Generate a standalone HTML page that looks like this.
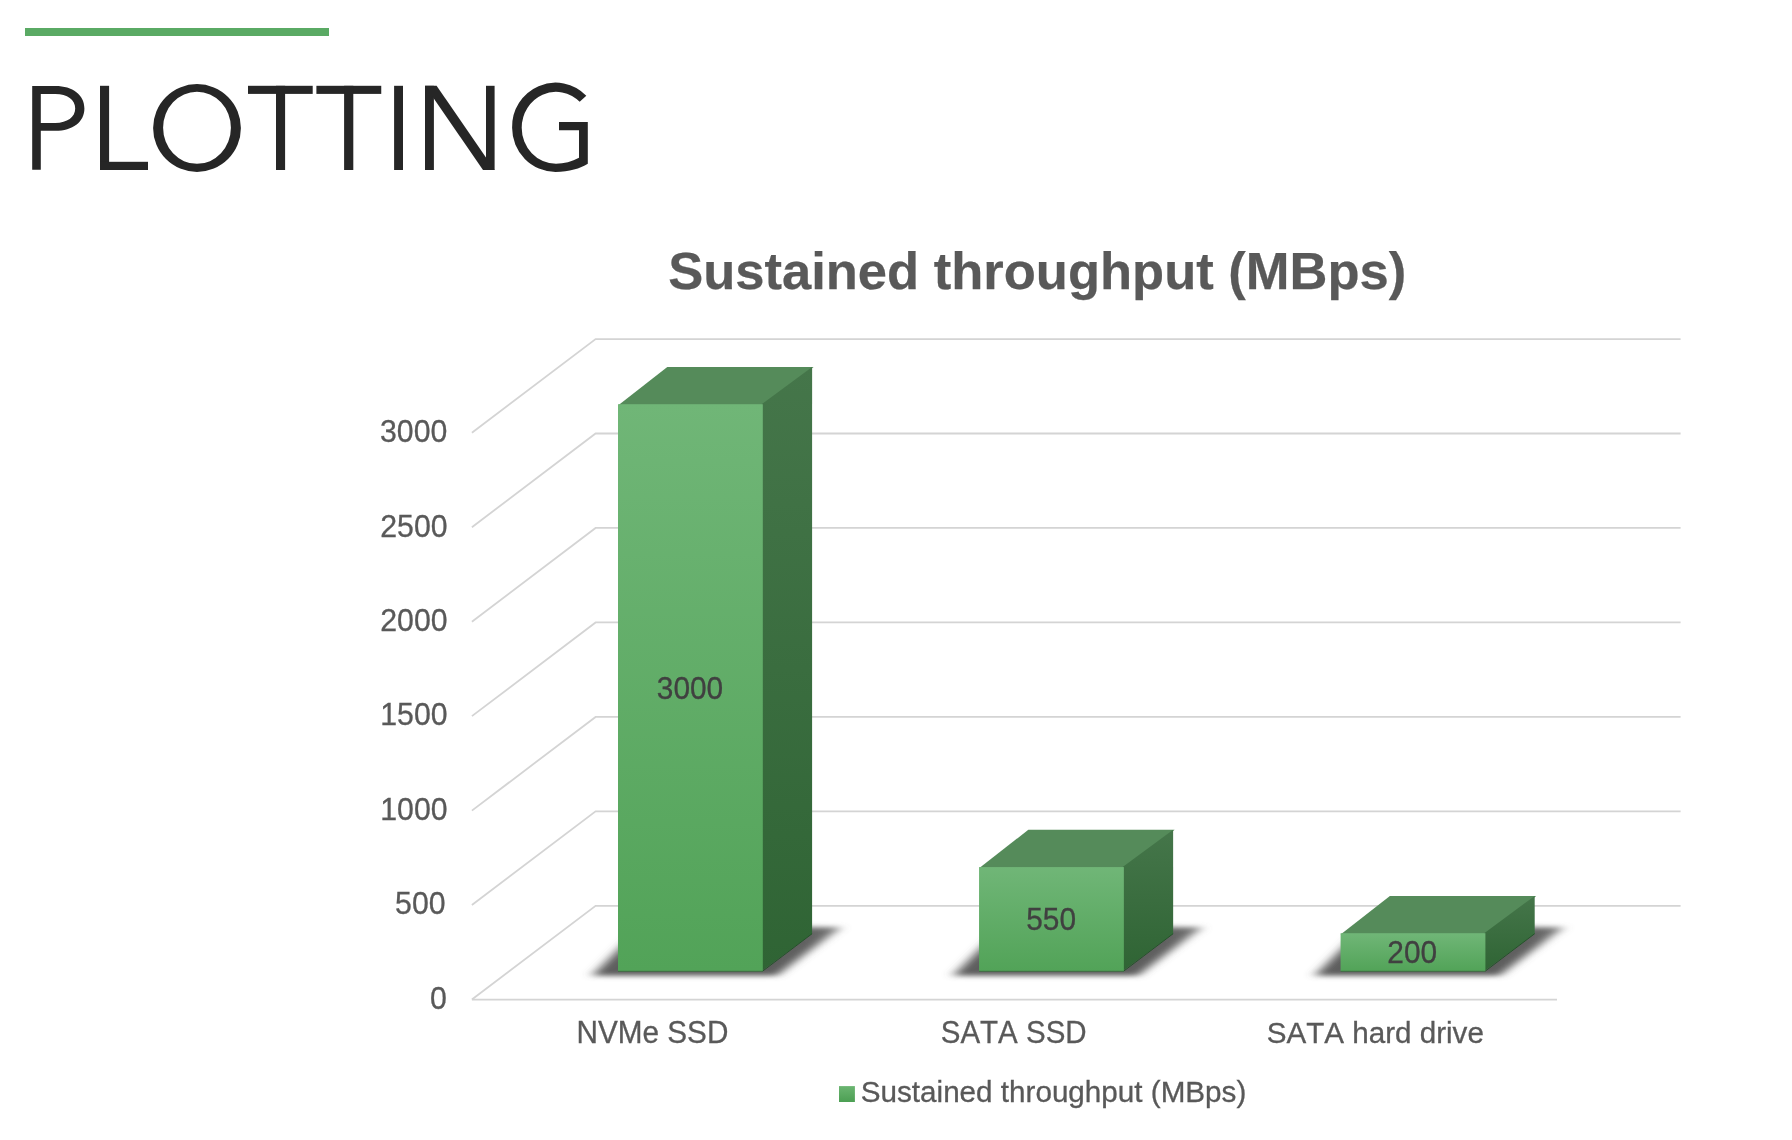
<!DOCTYPE html>
<html>
<head>
<meta charset="utf-8">
<style>
html,body{margin:0;padding:0;background:#fff;}
body{width:1792px;height:1140px;overflow:hidden;position:relative;}
svg{position:absolute;left:0;top:0;}
text{font-family:"Liberation Sans",sans-serif;font-kerning:none;font-feature-settings:"kern" 0;}
svg{will-change:transform;}
</style>
</head>
<body>
<svg width="1792" height="1140" viewBox="0 0 1792 1140">
<defs>
  <linearGradient id="gf" x1="0" y1="0" x2="0" y2="1">
    <stop offset="0" stop-color="#70b677"/>
    <stop offset="1" stop-color="#52a358"/>
  </linearGradient>
  <linearGradient id="gr" x1="0" y1="0" x2="0" y2="1">
    <stop offset="0" stop-color="#45764a"/>
    <stop offset="1" stop-color="#2f6434"/>
  </linearGradient>
  <linearGradient id="gl" x1="0" y1="0" x2="0" y2="1">
    <stop offset="0" stop-color="#6bb571"/>
    <stop offset="1" stop-color="#4c9f53"/>
  </linearGradient>
  <linearGradient id="gs" x1="0" y1="0" x2="1" y2="0">
    <stop offset="0" stop-color="#5d5d5d"/>
    <stop offset="0.75" stop-color="#5d5d5d"/>
    <stop offset="0.88" stop-color="#626262"/>
    <stop offset="1" stop-color="#7a7a7a"/>
  </linearGradient>
  <filter id="blur" x="-30%" y="-60%" width="160%" height="220%">
    <feGaussianBlur stdDeviation="6 2.4"/>
  </filter>
  <clipPath id="gclip"><rect x="500" y="70" width="88" height="110"/></clipPath>
</defs>
<rect width="1792" height="1140" fill="#fff"/>
<rect x="25" y="28" width="304" height="8" fill="#5aaa64"/>
<g fill="#262626" stroke="none">
  <path fill-rule="evenodd" d="M32.2,86.05 H55.4 C72.8,86.05 84.4,95 84.4,108.4 C84.4,121.8 72.8,130.7 55.4,130.7 H40.8 V169.8 H32.2 Z M40.8,94.07 H55.4 C67.3,94.07 75.2,99.9 75.2,108.5 C75.2,117.1 67.3,122.9 55.4,122.9 H40.8 Z"/>
  <rect x="100" y="85.8" width="9.1" height="84.2"/>
  <rect x="100" y="161.8" width="48" height="8.2"/>
  <path fill-rule="evenodd" d="M153.1 128 A43.9 43.9 0 1 0 240.9 128 A43.9 43.9 0 1 0 153.1 128 Z M163.1 127.8 A33.9 36.05 0 1 0 230.9 127.8 A33.9 36.05 0 1 0 163.1 127.8 Z"/>
  <rect x="248" y="85.8" width="64.7" height="8.1"/>
  <rect x="276" y="85.8" width="9.1" height="84.2"/>
  <rect x="316.4" y="85.8" width="64.85" height="8.1"/>
  <rect x="344.1" y="85.8" width="9.2" height="84.2"/>
  <rect x="394.1" y="85.8" width="8.9" height="84.2"/>
  <rect x="425" y="85.8" width="8.9" height="84.2"/>
  <rect x="486" y="85.8" width="8.6" height="84.2"/>
  <polygon points="425,85.8 436.6,85.8 494.6,170 483,170"/>
  <path d="M586.3,95.7 A43.4,44.15 0 0 0 512.1,127.75 A43.4,44.15 0 0 0 555.5,171.9 C569.5,171.9 580,168.5 587.8,163.8 V122 H559 V130.2 H579 V157.8 C572,161.6 564,163.8 556,163.8 A34.3,36.05 0 0 1 521.7,127.75 A34.3,36.05 0 0 1 579.7,101.8 Z"/>
</g>

<text transform="translate(668.19 289.00) scale(1 1.0000)" font-size="52.529" font-weight="bold" fill="#595959" stroke="#595959" stroke-width="0.25" >Sustained throughput (MBps)</text>
<g stroke="#d4d4d4" stroke-width="1.8" fill="none" stroke-linejoin="miter">
<polyline points="471.9,999.55 595.6,905.85 1680.6,905.85"/>
<polyline points="471.9,905.08 595.6,811.38 1680.6,811.38"/>
<polyline points="471.9,810.61 595.6,716.91 1680.6,716.91"/>
<polyline points="471.9,716.14 595.6,622.44 1680.6,622.44"/>
<polyline points="471.9,621.67 595.6,527.97 1680.6,527.97"/>
<polyline points="471.9,527.20 595.6,433.50 1680.6,433.50"/>
<polyline points="471.9,432.73 595.6,339.03 1680.6,339.03"/>
<line x1="471.9" y1="999.55" x2="1557" y2="999.55"/>
</g>
<text transform="translate(379.99 441.90) scale(1 1.0400)" font-size="30.250" font-weight="normal" fill="#595959" stroke="#595959" stroke-width="0.30">3000</text>
<text transform="translate(380.29 536.96) scale(1 1.0400)" font-size="30.250" font-weight="normal" fill="#595959" stroke="#595959" stroke-width="0.30">2500</text>
<text transform="translate(380.29 630.98) scale(1 1.0400)" font-size="30.250" font-weight="normal" fill="#595959" stroke="#595959" stroke-width="0.30">2000</text>
<text transform="translate(380.29 725.10) scale(1 1.0400)" font-size="30.250" font-weight="normal" fill="#595959" stroke="#595959" stroke-width="0.30">1500</text>
<text transform="translate(380.29 819.91) scale(1 1.0400)" font-size="30.250" font-weight="normal" fill="#595959" stroke="#595959" stroke-width="0.30">1000</text>
<text transform="translate(395.11 913.96) scale(1 1.0400)" font-size="30.250" font-weight="normal" fill="#595959" stroke="#595959" stroke-width="0.30">500</text>
<text transform="translate(430.06 1008.93) scale(1 1.0400)" font-size="30.250" font-weight="normal" fill="#595959" stroke="#595959" stroke-width="0.30">0</text>
<g fill="url(#gs)" filter="url(#blur)">
<polygon points="592.0,975.8 776.7,975.8 840.7,927.3 640.5,927.3"/>
<polygon points="953.0,975.8 1137.8,975.8 1201.8,927.3 1001.5,927.3"/>
<polygon points="1314.6,975.8 1499.3,975.8 1563.3,927.3 1363.1,927.3"/>
</g>
<polygon points="618.00,405.41 764.30,405.41 813.60,366.91 667.30,366.91" fill="#558b5a"/>
<polygon points="761.60,404.21 812.10,366.91 812.10,933.70 761.60,971.00" fill="url(#gr)"/>
<rect x="618.00" y="404.21" width="144.80" height="566.79" fill="url(#gf)"/>
<line x1="618.00" y1="971.30" x2="762.80" y2="971.30" stroke="#3e6f42" stroke-width="1"/>
<line x1="762.80" y1="971.00" x2="812.10" y2="933.70" stroke="#24532a" stroke-width="1"/>
<polygon points="979.05,868.29 1125.35,868.29 1174.65,829.79 1028.35,829.79" fill="#558b5a"/>
<polygon points="1122.65,867.09 1173.15,829.79 1173.15,933.70 1122.65,971.00" fill="url(#gr)"/>
<rect x="979.05" y="867.09" width="144.80" height="103.91" fill="url(#gf)"/>
<line x1="979.05" y1="971.30" x2="1123.85" y2="971.30" stroke="#3e6f42" stroke-width="1"/>
<line x1="1123.85" y1="971.00" x2="1173.15" y2="933.70" stroke="#24532a" stroke-width="1"/>
<polygon points="1340.60,934.41 1486.90,934.41 1536.20,895.91 1389.90,895.91" fill="#558b5a"/>
<polygon points="1484.20,933.21 1534.70,895.91 1534.70,933.70 1484.20,971.00" fill="url(#gr)"/>
<rect x="1340.60" y="933.21" width="144.80" height="37.79" fill="url(#gf)"/>
<line x1="1340.60" y1="971.30" x2="1485.40" y2="971.30" stroke="#3e6f42" stroke-width="1"/>
<line x1="1485.40" y1="971.00" x2="1534.70" y2="933.70" stroke="#24532a" stroke-width="1"/>
<text transform="translate(656.80 698.81) scale(1 1.0450)" font-size="29.850" font-weight="normal" fill="#404040" stroke="#404040" stroke-width="0.30">3000</text>
<text transform="translate(1026.28 929.82) scale(1 1.0450)" font-size="29.850" font-weight="normal" fill="#404040" stroke="#404040" stroke-width="0.30">550</text>
<text transform="translate(1387.36 962.99) scale(1 1.0450)" font-size="29.850" font-weight="normal" fill="#404040" stroke="#404040" stroke-width="0.30">200</text>
<text transform="translate(576.56 1042.90) scale(1 1.0300)" font-size="29.704" font-weight="normal" fill="#595959" stroke="#595959" stroke-width="0.30" >NVMe SSD</text>
<text transform="translate(940.76 1042.90) scale(1 1.0350)" font-size="29.510" font-weight="normal" fill="#595959" stroke="#595959" stroke-width="0.30" >SATA SSD</text>
<text transform="translate(1266.65 1043.00) scale(1 1.0200)" font-size="29.628" font-weight="normal" fill="#595959" stroke="#595959" stroke-width="0.30" >SATA hard drive</text>
<rect x="839" y="1086.1" width="15.9" height="15.9" fill="url(#gl)"/>
<text transform="translate(860.75 1101.90) scale(1 1.0200)" font-size="29.659" font-weight="normal" fill="#595959" stroke="#595959" stroke-width="0.30" >Sustained throughput (MBps)</text>
</svg>
</body>
</html>
